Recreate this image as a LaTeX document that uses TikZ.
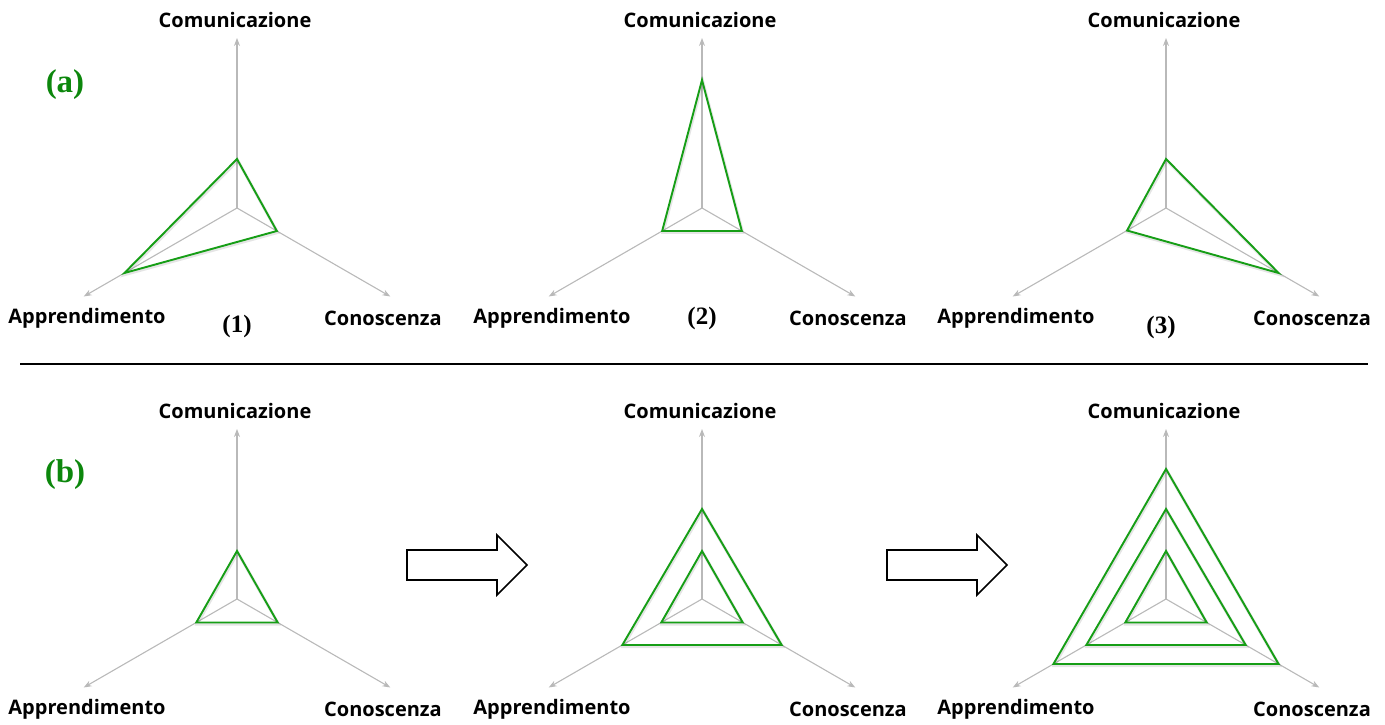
\documentclass[tikz,border=0pt]{standalone}
\usepackage{fontspec}
\newfontfamily\axisfont{Open Sans}
\newfontfamily\tagfont{Liberation Serif}
\usetikzlibrary{calc,arrows.meta}

\definecolor{axisgray}{RGB}{185,185,185}
\definecolor{linegreen}{RGB}{22,158,22}
\definecolor{taggreen}{RGB}{12,135,12}

% Three-axis radar frame: centre, axis tips and axis labels
\newcommand\radarframe[3]{% name, x, y
  \coordinate (#1-o) at (#2,#3);
  \coordinate (#1-cu) at ($(#1-o)+(90:170)$);
  \coordinate (#1-ap) at ($(#1-o)+(210:177)$);
  \coordinate (#1-co) at ($(#1-o)+(330:177)$);
  \draw[axis] (#1-o) -- (#1-cu);
  \draw[axis] (#1-o) -- (#1-ap);
  \draw[axis] (#1-o) -- (#1-co);
  \node[axislabel] (#1-lcu) at ($(#1-o)+(-2,188)$) {Comunicazione};
  \node[axislabel] (#1-lap) at ($(#1-o)+(-150,-110)$) {Apprendimento};
  \node[axislabel] (#1-lco) at ($(#1-o)+(146,-110)$) {Conoscenza};
}

% Profile triangle with radii on the Comunicazione, Apprendimento, Conoscenza axes
\newcommand\radarprofile[4]{%
  \draw[profileshadow] ($(#1-o)+(90:#2)+(0.8,-1.5)$) -- ($(#1-o)+(210:#3)+(0.8,-1.5)$)
    -- ($(#1-o)+(330:#4)+(0.8,-1.5)$) -- cycle;
  \draw[profile] ($(#1-o)+(90:#2)$) -- ($(#1-o)+(210:#3)$) -- ($(#1-o)+(330:#4)$) -- cycle;
}

% Hollow block arrow, left end x, shaft centre y
\newcommand\blockarrow[2]{%
  \draw[blockarrow] (#1,#2+15) -- (#1+90,#2+15) -- (#1+90,#2+30) -- (#1+120,#2)
    -- (#1+90,#2-30) -- (#1+90,#2-15) -- (#1,#2-15) -- cycle;
}

\begin{document}
\begin{tikzpicture}[x=1pt,y=1pt,
  axis/.style={draw=axisgray, line width=1.1pt, -{Stealth[length=8pt,width=6pt]}},
  profile/.style={draw=linegreen, line width=1.9pt, line join=miter},
  profileshadow/.style={draw=black, opacity=0.10, line width=3pt},
  axislabel/.style={font=\axisfont\bfseries\fontsize{20}{20}\selectfont, inner sep=0pt},
  paneltag/.style={font=\tagfont\bfseries\fontsize{33}{33}\selectfont, text=taggreen, inner sep=0pt},
  charttag/.style={font=\tagfont\bfseries\fontsize{25}{25}\selectfont, inner sep=0pt},
  blockarrow/.style={draw=black, line width=1.6pt, fill=white, line join=miter},
  separator/.style={draw=black, line width=1.4pt}
]
\useasboundingbox (0,0) rectangle (1385,724);

% (a) single profiles
\radarframe{a1}{237}{516}
\radarframe{a2}{702}{516}
\radarframe{a3}{1166}{516}
\radarprofile{a1}{49}{130}{46}
\radarprofile{a2}{128}{46}{46}
\radarprofile{a3}{49}{45}{130}
\node[charttag] (t1) at (237,398) {(1)};
\node[charttag] (t2) at (702,406) {(2)};
\node[charttag] (t3) at (1161,397) {(3)};
\node[paneltag] (pa) at (65,639) {(a)};

% separator
\coordinate (sepl) at (20,360);
\coordinate (sepr) at (1368,360);
\draw[separator] (sepl) -- (sepr);

% (b) growing profiles
\radarframe{b1}{237}{125}
\radarframe{b2}{702}{125}
\radarframe{b3}{1166}{125}
\radarprofile{b1}{48}{47}{47}
\radarprofile{b2}{48}{47}{47}
\radarprofile{b2}{90}{92}{92}
\radarprofile{b3}{48}{47}{47}
\radarprofile{b3}{90}{92}{92}
\radarprofile{b3}{130}{130}{130}
\node[paneltag] (pb) at (65,249) {(b)};

\blockarrow{407}{159}
\blockarrow{887}{159}
\end{tikzpicture}
\end{document}
